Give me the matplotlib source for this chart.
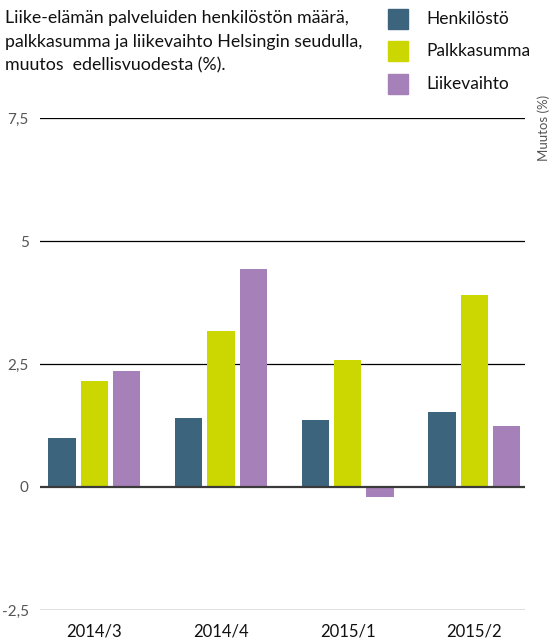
import numpy as np
import matplotlib.pyplot as plt
from matplotlib.patches import Rectangle

plt.rcParams['font.family'] = ['Lato', 'DejaVu Sans']

categories = ['2014/3', '2014/4', '2015/1', '2015/2']
henkilosto = [1.0, 1.40, 1.36, 1.52]
palkkasumma = [2.15, 3.17, 2.58, 3.90]
liikevaihto = [2.36, 4.43, -0.20, 1.24]
series_names = ['Henkilöstö', 'Palkkasumma', 'Liikevaihto']
colors = ['#3c647d', '#ccd600', '#a680b9']
yticks = [-2.5, 0, 2.5, 5, 7.5]
ytick_labels = ['-2,5', '0', '2,5', '5', '7,5']

fig = plt.figure(figsize=(5.53, 6.4), dpi=100)
ax = fig.add_axes([0.0723, 0.0469, 0.8770, 0.7687])

x = np.arange(len(categories))
step = 0.256
w = 0.215
for i, vals in enumerate([henkilosto, palkkasumma, liikevaihto]):
    ax.bar(x + (i - 1) * step, vals, width=w, color=colors[i], zorder=3)

for t in yticks:
    if t == 0:
        ax.axhline(t, color='#3a3a3a', lw=1.6, zorder=4)
    else:
        ax.axhline(t, color='black', lw=0.9, zorder=1)

ax.set_ylim(-2.5, 7.5)
ax.set_xlim(-0.43, 3.40)
ax.set_yticks(yticks)
ax.set_yticklabels(ytick_labels, color='#555555', fontsize=11)
ax.set_xticks(x)
ax.set_xticklabels(categories, fontsize=12, color='#111111')
ax.tick_params(axis='both', length=0, pad=8)
ax.tick_params(axis='x', pad=10)
for s in ax.spines.values():
    s.set_visible(False)

title = ('Liike-elämän palveluiden henkilöstön määrä,\n'
         'palkkasumma ja liikevaihto Helsingin seudulla,\n'
         'muutos  edellisvuodesta (%).')
fig.text(0.009, 1 - 10 / 640, title, ha='left', va='top', fontsize=12.8,
         linespacing=1.6, color='#111111')

# legend
for i, name in enumerate(series_names):
    yc = 1 - (18.5 + i * 32.8) / 640
    fig.patches.append(Rectangle((388 / 553, yc - 10 / 640), 20 / 553, 20 / 640,
                                 transform=fig.transFigure, color=colors[i]))
    fig.text(426 / 553, yc, name, ha='left', va='center', fontsize=12.5, color='#111111')

fig.text(0.995, 1 - 95 / 640, 'Muutos (%)', rotation=90, ha='right', va='top',
         fontsize=9.5, color='#555555')

fig.savefig('out.png', dpi=100)
